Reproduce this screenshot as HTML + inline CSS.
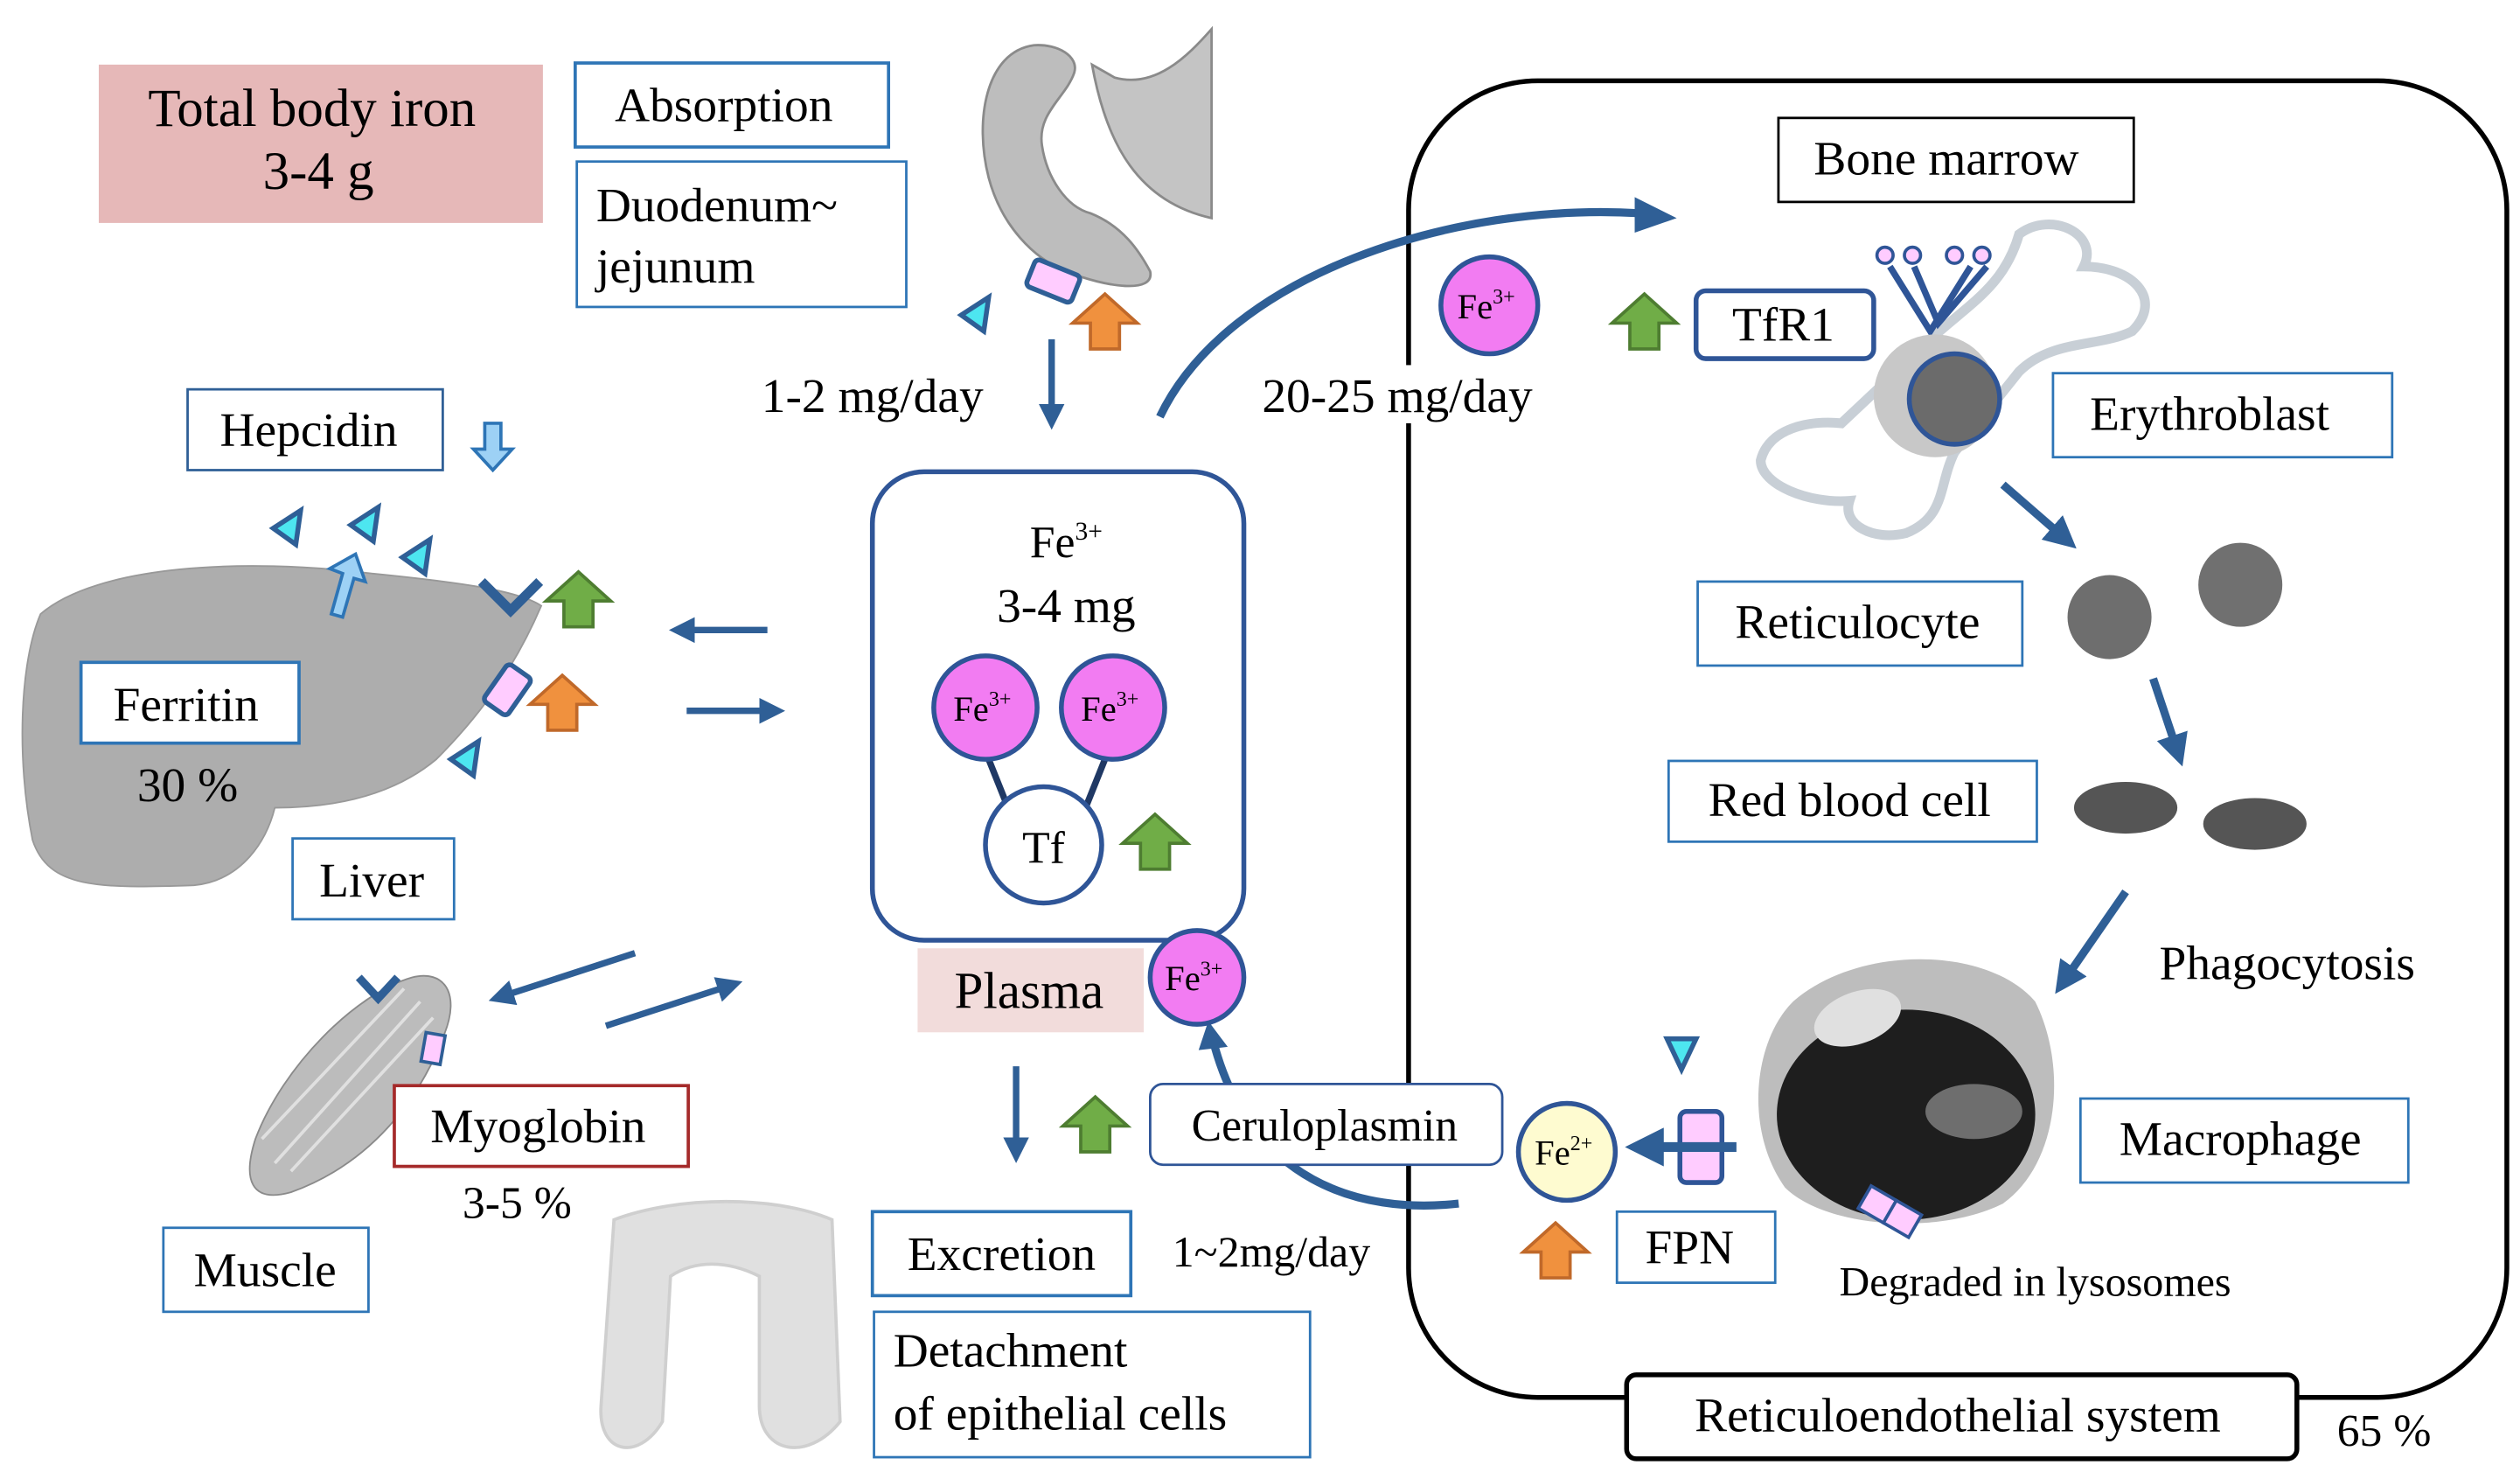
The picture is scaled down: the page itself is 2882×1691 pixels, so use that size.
<!DOCTYPE html>
<html><head><meta charset="utf-8"><style>
html,body{margin:0;padding:0;background:#fff;}
svg{display:block;}
text{font-family:"Liberation Serif",serif;fill:#000;}
</style></head><body>
<svg width="2882" height="1691" viewBox="0 0 1560 915.5" xmlns="http://www.w3.org/2000/svg">
<defs>
<marker id="ah" markerWidth="4" markerHeight="4" refX="2" refY="2" orient="auto"><path d="M0,0 L4,2 L0,4 z" fill="#2f5f96"/></marker>
<g id="og"><path d="M-20,0 L0,-18 L20,0 L9,0 L9,16 L-9,16 L-9,0 z" fill="#f0913e" stroke="#c0692a" stroke-width="2"/></g>
<g id="gg"><path d="M-20,0 L0,-18 L20,0 L9,0 L9,16 L-9,16 L-9,0 z" fill="#70ad47" stroke="#4e7d31" stroke-width="2"/></g>
<g id="tri"><path d="M-9,0 L8,-11 L5,10 z" fill="#4de6f0" stroke="#2f5f96" stroke-width="3"/></g>
</defs>

<!-- big RES box -->
<rect x="872" y="50" width="680" height="815" rx="80" fill="none" stroke="#000" stroke-width="3"/>

<!-- top left -->
<rect x="61" y="40" width="275" height="98" fill="#e6b8b8"/>
<text x="193" y="78" font-size="33" text-anchor="middle">Total body iron</text>
<text x="197" y="117" font-size="33" text-anchor="middle">3-4 g</text>
<rect x="356" y="39" width="194" height="52" fill="#fff" stroke="#2e75b6" stroke-width="2"/>
<text x="448" y="75" font-size="30" text-anchor="middle">Absorption</text>
<rect x="357" y="100" width="204" height="90" fill="#fff" stroke="#2e75b6" stroke-width="1.5"/>
<text x="369" y="137" font-size="30">Duodenum~</text>
<text x="369" y="175" font-size="30">jejunum</text>

<!-- duodenum image -->
<path d="M640,28 C610,32 603,75 612,110 C620,140 640,160 660,168 C685,178 715,182 712,168 C705,155 695,140 675,132 C660,128 648,110 645,90 C642,70 660,60 665,45 C668,35 655,27 640,28 z" fill="#bdbdbd" stroke="#8a8a8a" stroke-width="1.5"/>
<path d="M676,40 C685,90 705,125 750,135 L750,18 C735,35 715,55 690,48 z" fill="#c4c4c4" stroke="#8a8a8a" stroke-width="1.5"/>
<rect x="637" y="165" width="30" height="18" rx="3" transform="rotate(22 652 174)" fill="#ffccff" stroke="#2f5f96" stroke-width="3"/>
<use href="#og" x="684" y="200"/>
<use href="#tri" x="604" y="195"/>
<line x1="651" y1="210" x2="651" y2="258" stroke="#2f5f96" stroke-width="4" marker-end="url(#ah)"/>
<text x="540" y="255" font-size="30" text-anchor="middle">1-2 mg/day</text>

<!-- curved arrow to marrow -->
<rect x="772" y="226" width="186" height="36" fill="#fff"/>
<path d="M718,258 C760,170 900,125 1015,132" fill="none" stroke="#2f5f96" stroke-width="5"/>
<path d="M1012,122 L1038,135 L1012,144 z" fill="#2f5f96"/>
<text x="865" y="255" font-size="30" text-anchor="middle">20-25 mg/day</text>

<!-- hepcidin -->
<rect x="116" y="241" width="158" height="50" fill="#fff" stroke="#2f5f96" stroke-width="1.5"/>
<text x="191" y="276" font-size="30" text-anchor="middle">Hepcidin</text>
<path d="M300,262 L310,262 L310,278 L317,278 L305,291 L293,278 L300,278 z" fill="#9dd1f5" stroke="#2e75b6" stroke-width="2"/>

<!-- liver -->
<path d="M25,380 C60,350 150,345 230,355 C280,360 320,365 335,375 C320,410 300,440 270,470 C240,495 200,500 170,500 C165,520 150,545 120,548 C60,550 30,550 20,520 C10,470 12,410 25,380 z" fill="#adadad" stroke="#999" stroke-width="1"/>
<use href="#tri" x="178" y="327"/>
<use href="#tri" x="226" y="325"/>
<use href="#tri" x="258" y="345"/>
<use href="#tri" x="288" y="470"/>
<path d="M205,380 L212,355 L204,352 L220,343 L226,360 L219,358 L212,382 z" fill="#9dd1f5" stroke="#2e75b6" stroke-width="2"/>
<path d="M298,360 L316,378 L334,360" fill="none" stroke="#2f5f96" stroke-width="6"/>
<use href="#gg" x="358" y="372"/>
<rect x="300" y="418" width="28" height="18" rx="3" transform="rotate(-55 314 427)" fill="#ffccff" stroke="#2f5f96" stroke-width="3"/>
<use href="#og" x="348" y="436"/>
<rect x="50" y="410" width="135" height="50" fill="#fff" stroke="#2e75b6" stroke-width="2"/>
<text x="115" y="446" font-size="30" text-anchor="middle">Ferritin</text>
<text x="116" y="496" font-size="30" text-anchor="middle">30 %</text>
<rect x="181" y="519" width="100" height="50" fill="#fff" stroke="#2e75b6" stroke-width="1.5"/>
<text x="230" y="555" font-size="30" text-anchor="middle">Liver</text>
<line x1="475" y1="390" x2="422" y2="390" stroke="#2f5f96" stroke-width="4" marker-end="url(#ah)"/>
<line x1="425" y1="440" x2="478" y2="440" stroke="#2f5f96" stroke-width="4" marker-end="url(#ah)"/>

<!-- muscle -->
<path d="M255,605 C275,600 285,615 275,640 C260,680 230,720 180,738 C155,745 150,730 158,705 C175,660 220,615 255,605 z" fill="#bcbcbc" stroke="#8a8a8a"/>
<g stroke="#e0e0e0" stroke-width="2" fill="none"><path d="M170,720 L260,620"/><path d="M180,725 L268,630"/><path d="M162,705 L250,612"/></g>
<path d="M222,605 L234,618 L246,605" fill="none" stroke="#2f5f96" stroke-width="5"/>
<rect x="262" y="640" width="12" height="18" fill="#ffccff" stroke="#2f5f96" stroke-width="2" transform="rotate(10 268 649)"/>
<rect x="244" y="672" width="182" height="50" fill="#fff" stroke="#a52a2a" stroke-width="2"/>
<text x="333" y="707" font-size="30" text-anchor="middle">Myoglobin</text>
<text x="320" y="754" font-size="28" text-anchor="middle">3-5 %</text>
<rect x="101" y="760" width="127" height="52" fill="#fff" stroke="#2e75b6" stroke-width="1.5"/>
<text x="164" y="796" font-size="30" text-anchor="middle">Muscle</text>
<line x1="393" y1="590" x2="310" y2="617" stroke="#2f5f96" stroke-width="4" marker-end="url(#ah)"/>
<line x1="375" y1="635" x2="452" y2="610" stroke="#2f5f96" stroke-width="4" marker-end="url(#ah)"/>

<!-- plasma -->
<rect x="540" y="292" width="230" height="290" rx="32" fill="#fff" stroke="#2f5597" stroke-width="3"/>
<text x="660" y="345" font-size="28" text-anchor="middle">Fe<tspan font-size="16" dy="-11">3+</tspan></text>
<text x="660" y="385" font-size="30" text-anchor="middle">3-4 mg</text>
<line x1="610" y1="465" x2="624" y2="500" stroke="#1f3864" stroke-width="4"/>
<line x1="686" y1="465" x2="672" y2="500" stroke="#1f3864" stroke-width="4"/>
<circle cx="610" cy="438" r="32" fill="#f27cf2" stroke="#2f5597" stroke-width="3"/>
<circle cx="689" cy="438" r="32" fill="#f27cf2" stroke="#2f5597" stroke-width="3"/>
<text x="608" y="446" font-size="22" text-anchor="middle">Fe<tspan font-size="13" dy="-9">3+</tspan></text>
<text x="687" y="446" font-size="22" text-anchor="middle">Fe<tspan font-size="13" dy="-9">3+</tspan></text>
<circle cx="646" cy="523" r="36" fill="#fff" stroke="#2f5597" stroke-width="3"/>
<text x="646" y="534" font-size="28" text-anchor="middle">Tf</text>
<use href="#gg" x="715" y="522"/>
<rect x="568" y="587" width="140" height="52" fill="#f2dcdb"/>
<text x="637" y="624" font-size="32" text-anchor="middle">Plasma</text>

<!-- excretion -->
<line x1="629" y1="660" x2="629" y2="712" stroke="#2f5f96" stroke-width="4" marker-end="url(#ah)"/>
<use href="#gg" x="678" y="697"/>
<path d="M903,745 C840,752 775,730 752,648" fill="none" stroke="#2f5f96" stroke-width="5"/>
<path d="M742,650 L748,632 L760,648 z" fill="#2f5f96"/>
<circle cx="741" cy="605" r="29" fill="#f27cf2" stroke="#2f5597" stroke-width="3"/>
<text x="739" y="613" font-size="22" text-anchor="middle">Fe<tspan font-size="13" dy="-9">3+</tspan></text>
<rect x="712" y="671" width="218" height="50" rx="8" fill="#fff" stroke="#2f5597" stroke-width="1.5"/>
<text x="820" y="706" font-size="28" text-anchor="middle">Ceruloplasmin</text>
<rect x="540" y="750" width="160" height="52" fill="#fff" stroke="#2e75b6" stroke-width="2"/>
<text x="620" y="786" font-size="30" text-anchor="middle">Excretion</text>
<text x="787" y="784" font-size="27" text-anchor="middle">1~2mg/day</text>
<rect x="541" y="812" width="270" height="90" fill="#fff" stroke="#2e75b6" stroke-width="1.5"/>
<text x="553" y="846" font-size="30">Detachment</text>
<text x="553" y="885" font-size="30">of epithelial  cells</text>
<!-- intestine -->
<path d="M380,755 C420,740 480,740 515,755 L520,880 C500,905 470,900 470,870 L470,790 C450,780 430,780 415,790 L410,880 C395,905 370,900 372,870 z" fill="#e0e0e0" stroke="#cfcfcf" stroke-width="2"/>

<!-- bone marrow area -->
<rect x="1101" y="73" width="220" height="52" fill="#fff" stroke="#000" stroke-width="1.5"/>
<text x="1205" y="108" font-size="30" text-anchor="middle">Bone marrow</text>
<circle cx="922" cy="189" r="30" fill="#f27cf2" stroke="#2f5597" stroke-width="3"/>
<text x="920" y="197" font-size="22" text-anchor="middle">Fe<tspan font-size="13" dy="-9">3+</tspan></text>
<use href="#gg" x="1018" y="200"/>
<rect x="1050" y="180" width="110" height="42" rx="6" fill="#fff" stroke="#2f5597" stroke-width="3"/>
<text x="1104" y="211" font-size="30" text-anchor="middle">TfR1</text>
<!-- bone -->
<path d="M1250,145 C1270,130 1300,145 1290,165 C1320,165 1340,185 1320,205 C1300,215 1270,210 1250,230 L1210,280 C1200,300 1205,320 1180,330 C1160,335 1140,325 1145,310 C1120,312 1090,300 1090,285 C1095,265 1120,260 1140,262 L1190,215 C1215,190 1240,180 1250,145 z" fill="#fff" stroke="#c8cfd6" stroke-width="6"/>
<g stroke="#2f5597" stroke-width="4" fill="none"><path d="M1170,165 L1195,205 L1220,165"/><path d="M1185,165 L1200,200 L1230,165"/></g>
<g fill="#ffccff" stroke="#2f5597" stroke-width="2"><circle cx="1167" cy="158" r="5"/><circle cx="1184" cy="158" r="5"/><circle cx="1210" cy="158" r="5"/><circle cx="1227" cy="158" r="5"/></g>
<circle cx="1198" cy="245" r="38" fill="#c8c8c8"/>
<circle cx="1210" cy="247" r="28" fill="#6b6b6b" stroke="#2f5597" stroke-width="3"/>
<rect x="1271" y="231" width="210" height="52" fill="#fff" stroke="#2e75b6" stroke-width="1.5"/>
<text x="1368" y="266" font-size="30" text-anchor="middle">Erythroblast</text>
<line x1="1240" y1="300" x2="1278" y2="333" stroke="#2f5f96" stroke-width="5" marker-end="url(#ah)"/>
<rect x="1051" y="360" width="201" height="52" fill="#fff" stroke="#2e75b6" stroke-width="1.5"/>
<text x="1150" y="395" font-size="30" text-anchor="middle">Reticulocyte</text>
<circle cx="1306" cy="382" r="26" fill="#6e6e6e"/>
<circle cx="1387" cy="362" r="26" fill="#707070"/>
<line x1="1333" y1="420" x2="1348" y2="465" stroke="#2f5f96" stroke-width="5" marker-end="url(#ah)"/>
<rect x="1033" y="471" width="228" height="50" fill="#fff" stroke="#2e75b6" stroke-width="1.5"/>
<text x="1145" y="505" font-size="30" text-anchor="middle">Red blood cell</text>
<ellipse cx="1316" cy="500" rx="32" ry="16" fill="#555"/>
<ellipse cx="1396" cy="510" rx="32" ry="16" fill="#555"/>
<line x1="1316" y1="552" x2="1278" y2="607" stroke="#2f5f96" stroke-width="5" marker-end="url(#ah)"/>
<text x="1416" y="606" font-size="30" text-anchor="middle">Phagocytosis</text>
<!-- macrophage -->
<path d="M1110,620 C1150,585 1230,585 1260,620 C1280,660 1275,720 1240,745 C1200,765 1130,760 1105,735 C1080,700 1085,645 1110,620 z" fill="#bdbdbd"/>
<ellipse cx="1180" cy="690" rx="80" ry="65" fill="#1e1e1e"/>
<ellipse cx="1150" cy="630" rx="28" ry="16" fill="#e0e0e0" transform="rotate(-20 1150 630)"/>
<ellipse cx="1222" cy="688" rx="30" ry="17" fill="#6e6e6e"/>
<rect x="1288" y="680" width="203" height="52" fill="#fff" stroke="#2e75b6" stroke-width="1.5"/>
<text x="1387" y="715" font-size="30" text-anchor="middle">Macrophage</text>
<g transform="rotate(30 1170 750)"><rect x="1152" y="742" width="18" height="16" fill="#ffccff" stroke="#2f5597" stroke-width="2"/><rect x="1170" y="742" width="18" height="16" fill="#ffccff" stroke="#2f5597" stroke-width="2"/></g>
<text x="1260" y="802" font-size="26" text-anchor="middle">Degraded in lysosomes</text>
<path d="M1032,643 L1050,643 L1041,662 z" fill="#4de6f0" stroke="#2f5f96" stroke-width="3"/>
<rect x="1040" y="688" width="26" height="44" rx="4" fill="#ffccff" stroke="#2f5597" stroke-width="3"/>
<line x1="1075" y1="710" x2="1018" y2="710" stroke="#2f5f96" stroke-width="6" marker-end="url(#ah)"/>
<circle cx="970" cy="713" r="30" fill="#fefbd0" stroke="#2f5597" stroke-width="3"/>
<text x="968" y="721" font-size="22" text-anchor="middle">Fe<tspan font-size="13" dy="-9">2+</tspan></text>
<use href="#og" x="963" y="775"/>
<rect x="1001" y="750" width="98" height="44" fill="#fff" stroke="#2e75b6" stroke-width="1.5"/>
<text x="1046" y="782" font-size="30" text-anchor="middle">FPN</text>
<rect x="1007" y="851" width="415" height="52" rx="6" fill="#fff" stroke="#000" stroke-width="3"/>
<text x="1212" y="886" font-size="30" text-anchor="middle">Reticuloendothelial  system</text>
<text x="1476" y="895" font-size="28" text-anchor="middle">65 %</text>
</svg>
</body></html>
